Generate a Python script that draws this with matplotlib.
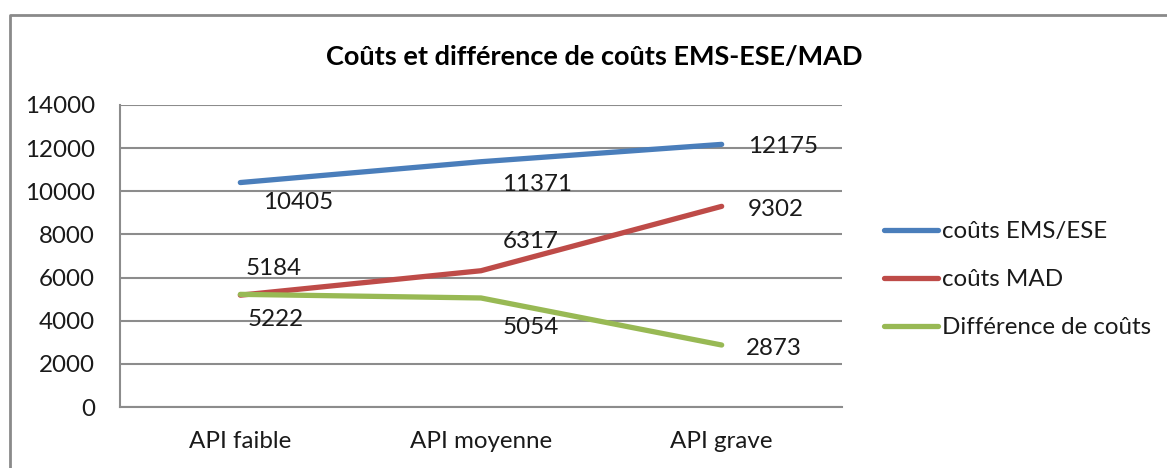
import matplotlib
matplotlib.use("Agg")
import matplotlib.pyplot as plt
from matplotlib.lines import Line2D

plt.rcParams['font.family'] = ['Lato', 'DejaVu Sans']

categories = ["API faible", "API moyenne", "API grave"]
ems_ese = [10405, 11371, 12175]
mad = [5184, 6317, 9302]
diff = [5222, 5054, 2873]
series_names = ["coûts EMS/ESE", "coûts MAD", "Différence de coûts"]
yticks = [0, 2000, 4000, 6000, 8000, 10000, 12000, 14000]
title = "Coûts et différence de coûts EMS-ESE/MAD"

colors = ["#4A7EBB", "#BE4B48", "#98B954"]
# label offsets in pixels (dx to left edge, dy upward)
offsets = [
    [(23, -20), (21, -23), (26, -2)],
    [(5, 27), (22, 29), (26, -3)],
    [(7, -25), (22, -30), (24, -3)],
]

FS = 17.4
W, H = 1167, 468
fig = plt.figure(figsize=(W / 100, H / 100), dpi=100)
ax = fig.add_axes([120 / W, (H - 407) / H, (842 - 120) / W, (407 - 105) / H])

x = list(range(len(categories)))
handles = []
for vals, name, col, offs in zip([ems_ese, mad, diff], series_names, colors, offsets):
    h, = ax.plot(x, vals, color=col, lw=3.8, solid_capstyle='round', label=name, zorder=3)
    handles.append(h)
    for xi, v, (dx, dy) in zip(x, vals, offs):
        ax.annotate(str(v), (xi, v), xytext=(dx, dy), textcoords='offset pixels',
                    ha='left', va='center', fontsize=FS, color='#1a1a1a', zorder=4)

ax.set_xlim(-0.5, 2.5)
ax.set_ylim(0, 14000)
ax.set_yticks(yticks)
ax.set_yticklabels([str(t) for t in yticks])
ax.set_xticks(x)
ax.set_xticklabels(categories)
ax.tick_params(axis='both', length=0, labelsize=FS, colors='#1a1a1a')
ax.tick_params(axis='y', pad=18)
ax.tick_params(axis='x', pad=17)
ax.grid(axis='y', color='#8c8c8c', lw=1.5, zorder=1)
ax.set_axisbelow(True)
for s in ['top', 'right']:
    ax.spines[s].set_visible(False)
for s in ['left', 'bottom']:
    ax.spines[s].set_color('#8c8c8c')
    ax.spines[s].set_linewidth(1.5)

fig.text(594 / W, 1 - 57 / H, title, ha='center', va='center', fontsize=19.5,
         fontweight='bold', color='#000000')

leg = fig.legend(handles=handles, loc='upper left', bbox_to_anchor=(884 / W, 1 - 221 / H),
                 frameon=False, fontsize=FS, handlelength=2.25, handletextpad=0.15,
                 labelspacing=1.12, borderpad=0, borderaxespad=0)
for t in leg.get_texts():
    t.set_color('#1a1a1a')

# outer chart border
fig.add_artist(Line2D([10 / W, 10 / W, 1.0], [0.0, 1 - 15 / H, 1 - 15 / H],
                      transform=fig.transFigure, color='#8a8a8a', lw=2))

fig.savefig("out.png", dpi=100)
